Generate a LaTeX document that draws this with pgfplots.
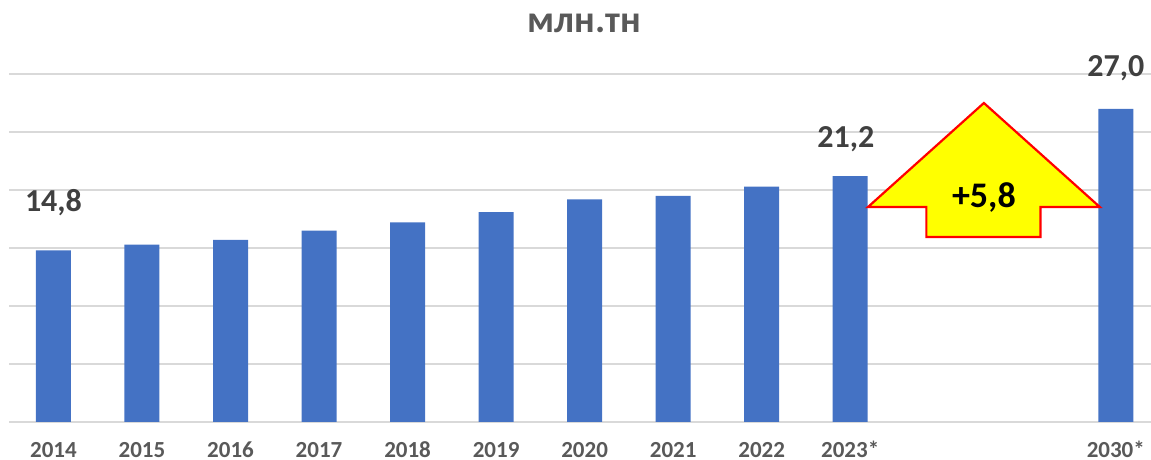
\documentclass[border=0pt]{standalone}
\usepackage{fontspec}
\setmainfont{Carlito}
\usepackage{pgfplots}
\pgfplotsset{compat=1.18}
\definecolor{barblue}{HTML}{4472C4}
\definecolor{gridgray}{HTML}{D9D9D9}
\definecolor{ticktext}{HTML}{595959}
\definecolor{labeltext}{HTML}{404040}
\definecolor{arrowyellow}{HTML}{FFFF00}
\begin{document}
\begin{tikzpicture}
\path[use as bounding box] (-4.6pt,-19pt) rectangle (570.9pt,211pt);
\begin{axis}[
  at={(0pt,0pt)}, anchor=south west,
  scale only axis,
  width=571pt, height=174pt,
  xmin=-0.5, xmax=12.4,
  ymin=0, ymax=30,
  clip=false,
  axis line style={draw=none},
  major tick length=0pt,
  ytick={0,5,10,15,20,25,30},
  yticklabels={},
  ymajorgrids=true,
  grid style={gridgray, line width=0.8pt},
  xtick={0,1,2,3,4,5,6,7,8,9,12},
  xticklabels={2014,2015,2016,2017,2018,2019,2020,2021,2022,2023*,2030*},
  xticklabel style={anchor=base, yshift=-17.6pt, inner sep=0pt, font=\fontsize{11.5pt}{13pt}\selectfont\bfseries, text=ticktext},
]
\addplot[ybar, bar width=17.5pt, fill=barblue, draw=none] coordinates {
  (0,14.8) (1,15.3) (2,15.7) (3,16.5) (4,17.2) (5,18.1) (6,19.2) (7,19.5) (8,20.3) (9,21.2) (12,27.0)
};
\node[text=labeltext, font=\fontsize{16pt}{18pt}\selectfont\bfseries] at (axis cs:0,18.9) {14,8};
\node[text=labeltext, font=\fontsize{16pt}{18pt}\selectfont\bfseries] at (axis cs:8.95,24.4) {21,2};
\node[text=labeltext, font=\fontsize{16pt}{18pt}\selectfont\bfseries] at (axis cs:12,30.5) {27,0};
\draw[red, line width=1.1pt, fill=arrowyellow, line join=miter]
  (axis cs:9.2,18.53) -- (axis cs:10.51,27.5) -- (axis cs:11.82,18.53)
  -- (axis cs:11.15,18.53) -- (axis cs:11.15,15.95) -- (axis cs:9.86,15.95)
  -- (axis cs:9.86,18.53) -- cycle;
\node[text=black, font=\fontsize{18pt}{20pt}\selectfont\bfseries] at (axis cs:10.51,19.35) {+5,8};
\end{axis}
\node[text=ticktext, font=\fontsize{19pt}{21pt}\selectfont\bfseries] at (287.4pt,199.5pt) {млн.тн};
\end{tikzpicture}
\end{document}
